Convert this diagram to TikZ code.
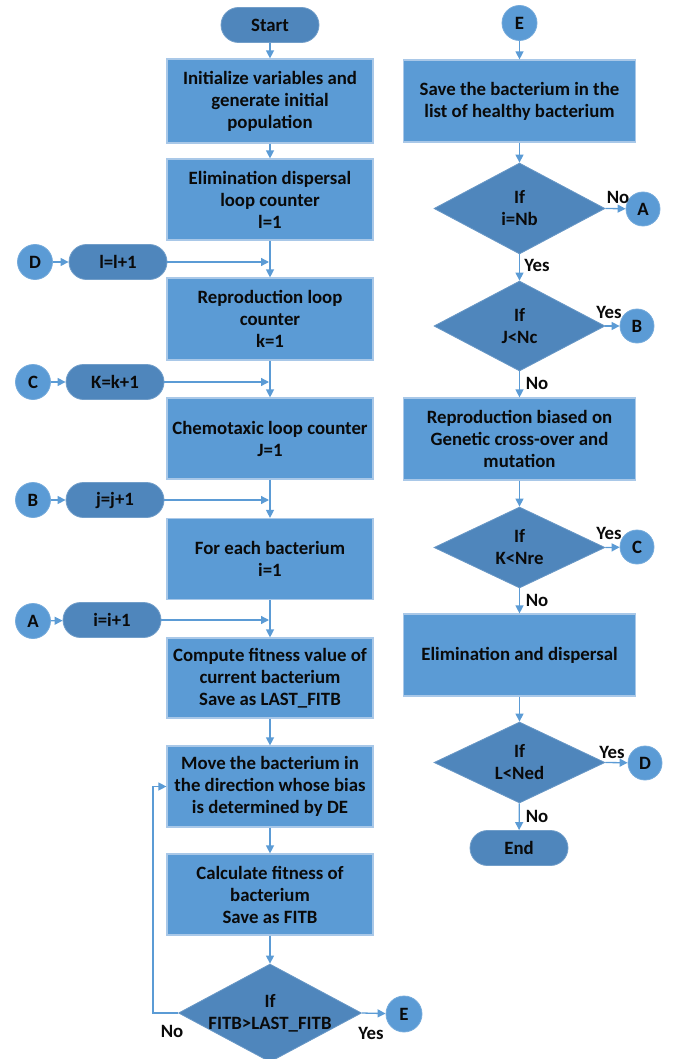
\documentclass[tikz,border=0pt]{standalone}
\usepackage{fontspec}
\setmainfont{Carlito}
\usetikzlibrary{shapes.geometric,arrows.meta}
\definecolor{boxfill}{HTML}{5B9BD5}
\definecolor{darkfill}{HTML}{4F86BC}
\definecolor{boxline}{HTML}{A9C8E8}
\definecolor{arrowc}{HTML}{5B9BD5}
\definecolor{txt}{HTML}{0A0A0A}
\begin{document}
\begin{tikzpicture}[x=1pt,y=-1pt,
 every node/.style={font=\fontsize{18.8}{22}\selectfont\bfseries, text=txt, align=center},
 proc/.style={rectangle, fill=boxfill, draw=boxline, line width=1.2pt, minimum width=206pt, inner sep=0pt},
 term/.style={rectangle, rounded corners=17.5pt, fill=darkfill, draw=darkfill!80!white, line width=0.8pt, minimum width=98pt, minimum height=35pt, inner sep=0pt},
 conn/.style={circle, fill=boxfill, draw=boxfill!85!white, line width=0.8pt, minimum size=35pt, inner sep=0pt},
 decis/.style={diamond, fill=darkfill, draw=darkfill!85!white, line width=0.8pt, inner sep=0pt},
 arr/.style={draw=arrowc, line width=1.3pt, -{Triangle[length=8pt,width=8pt]}},
 lbl/.style={inner sep=0pt}]
\useasboundingbox (0,0) rectangle (673,1059);

% ---- left column
\node[term] (start) at (270,25) {Start};
\node[proc, minimum height=84pt] (init) at (270,101) {Initialize variables and\\generate initial\\population};
\node[proc, minimum height=81pt] (elim) at (270,199.5) {Elimination dispersal\\loop counter\\l=1};
\node[proc, minimum height=82pt] (repro) at (270,319) {Reproduction loop\\counter\\k=1};
\node[proc, minimum height=81pt] (chemo) at (270,438.5) {Chemotaxic loop counter\\J=1};
\node[proc, minimum height=81pt] (foreach) at (270,559) {For each bacterium\\i=1};
\node[proc, minimum height=80pt] (compute) at (270,678) {Compute fitness value of\\current bacterium\\Save as LAST\_FITB};
\node[proc, minimum height=81pt] (move) at (270,786.5) {Move the bacterium in\\the direction whose bias\\is determined by DE};
\node[proc, minimum height=81pt] (calc) at (270,894.5) {Calculate fitness of\\bacterium\\Save as FITB};
\node[decis, minimum width=183pt, minimum height=98pt, label={center:{If\\FITB>LAST\_FITB}}] (dec) at (270,1013) {};
\node[conn, minimum size=36pt] (E1) at (404,1014) {E};

\node[conn] (D1) at (35,262) {D};
\node[term] (lterm) at (118,262) {l=l+1};
\node[conn] (C1) at (33,382) {C};
\node[term] (kterm) at (115,382) {K=k+1};
\node[conn] (B1) at (33,500) {B};
\node[term] (jterm) at (115,500) {j=j+1};
\node[conn] (A1) at (33,621) {A};
\node[term] (iterm) at (112,620) {i=i+1};

\draw[arr] (start) -- (init);
\draw[arr] (init) -- (elim);
\draw[arr] (elim) -- (repro);
\draw[arr] (repro) -- (chemo);
\draw[arr] (chemo) -- (foreach);
\draw[arr] (foreach) -- (compute);
\draw[arr] (compute) -- (move);
\draw[arr] (move) -- (calc);
\draw[arr] (calc) -- (dec);
\draw[arr] (dec.east) -- (E1);
\draw[arr] (dec.west) -- ++(-25,0) |- (move.west);

\draw[arr] (D1) -- (lterm);
\draw[arr, shorten >=1pt] (lterm.east) -- (elim.south |- lterm.east);
\draw[arr] (C1) -- (kterm);
\draw[arr, shorten >=1pt] (kterm.east) -- (repro.south |- kterm.east);
\draw[arr] (B1) -- (jterm);
\draw[arr, shorten >=1pt] (jterm.east) -- (chemo.south |- jterm.east);
\draw[arr] (A1) -- (iterm);
\draw[arr, shorten >=1pt] (iterm.east) -- (foreach.south |- iterm.east);

\node[lbl] (lno) at (172,1031) {No};
\node[lbl] (lyes) at (371,1033) {Yes};

% ---- right column
\node[conn] (E2) at (519.5,23) {E};
\node[proc, minimum width=232pt, minimum height=82pt] (save) at (519.5,101) {Save the bacterium in the\\list of healthy bacterium};
\node[decis, minimum width=171pt, minimum height=91pt, label={center:{If\\i=Nb}}] (d1) at (519.5,208.5) {};
\node[conn, minimum size=34pt] (A2) at (643,209) {A};
\node[decis, minimum width=171pt, minimum height=90pt, label={center:{If\\J<Nc}}] (d2) at (519.5,326) {};
\node[conn, minimum size=34pt] (B2) at (637,326) {B};
\node[proc, minimum width=232pt, minimum height=82pt] (rep) at (519.5,439) {Reproduction biased on\\Genetic cross-over and\\mutation};
\node[decis, minimum width=171pt, minimum height=81pt, label={center:{If\\K<Nre}}] (d3) at (519.5,547.5) {};
\node[conn, minimum size=34pt] (C2) at (637,547) {C};
\node[proc, minimum width=232pt, minimum height=82pt] (elimd) at (519.5,655) {Elimination and dispersal};
\node[decis, minimum width=171pt, minimum height=81pt, label={center:{If\\L<Ned}}] (d4) at (519.5,762.5) {};
\node[conn, minimum size=34pt] (D2) at (645,763) {D};
\node[term] (endn) at (519,848) {End};

\draw[arr] (E2) -- (save);
\draw[arr] (save) -- (d1);
\draw[arr] (d1.east) -- (A2);
\draw[arr] (d1) -- (d2);
\draw[arr] (d2.east) -- (B2);
\draw[arr] (d2) -- (rep);
\draw[arr] (rep) -- (d3);
\draw[arr] (d3.east) -- (C2);
\draw[arr] (d3) -- (elimd);
\draw[arr] (elimd) -- (d4);
\draw[arr] (d4.east) -- (D2);
\draw[arr] (d4) -- (endn);

\node[lbl] (r1) at (618,197) {No};
\node[lbl] (r2) at (537,265) {Yes};
\node[lbl] (r3) at (609,312) {Yes};
\node[lbl] (r4) at (537,383) {No};
\node[lbl] (r5) at (609,533) {Yes};
\node[lbl] (r6) at (537,600) {No};
\node[lbl] (r7) at (612,752) {Yes};
\node[lbl] (r8) at (537,816) {No};
\end{tikzpicture}
\end{document}
